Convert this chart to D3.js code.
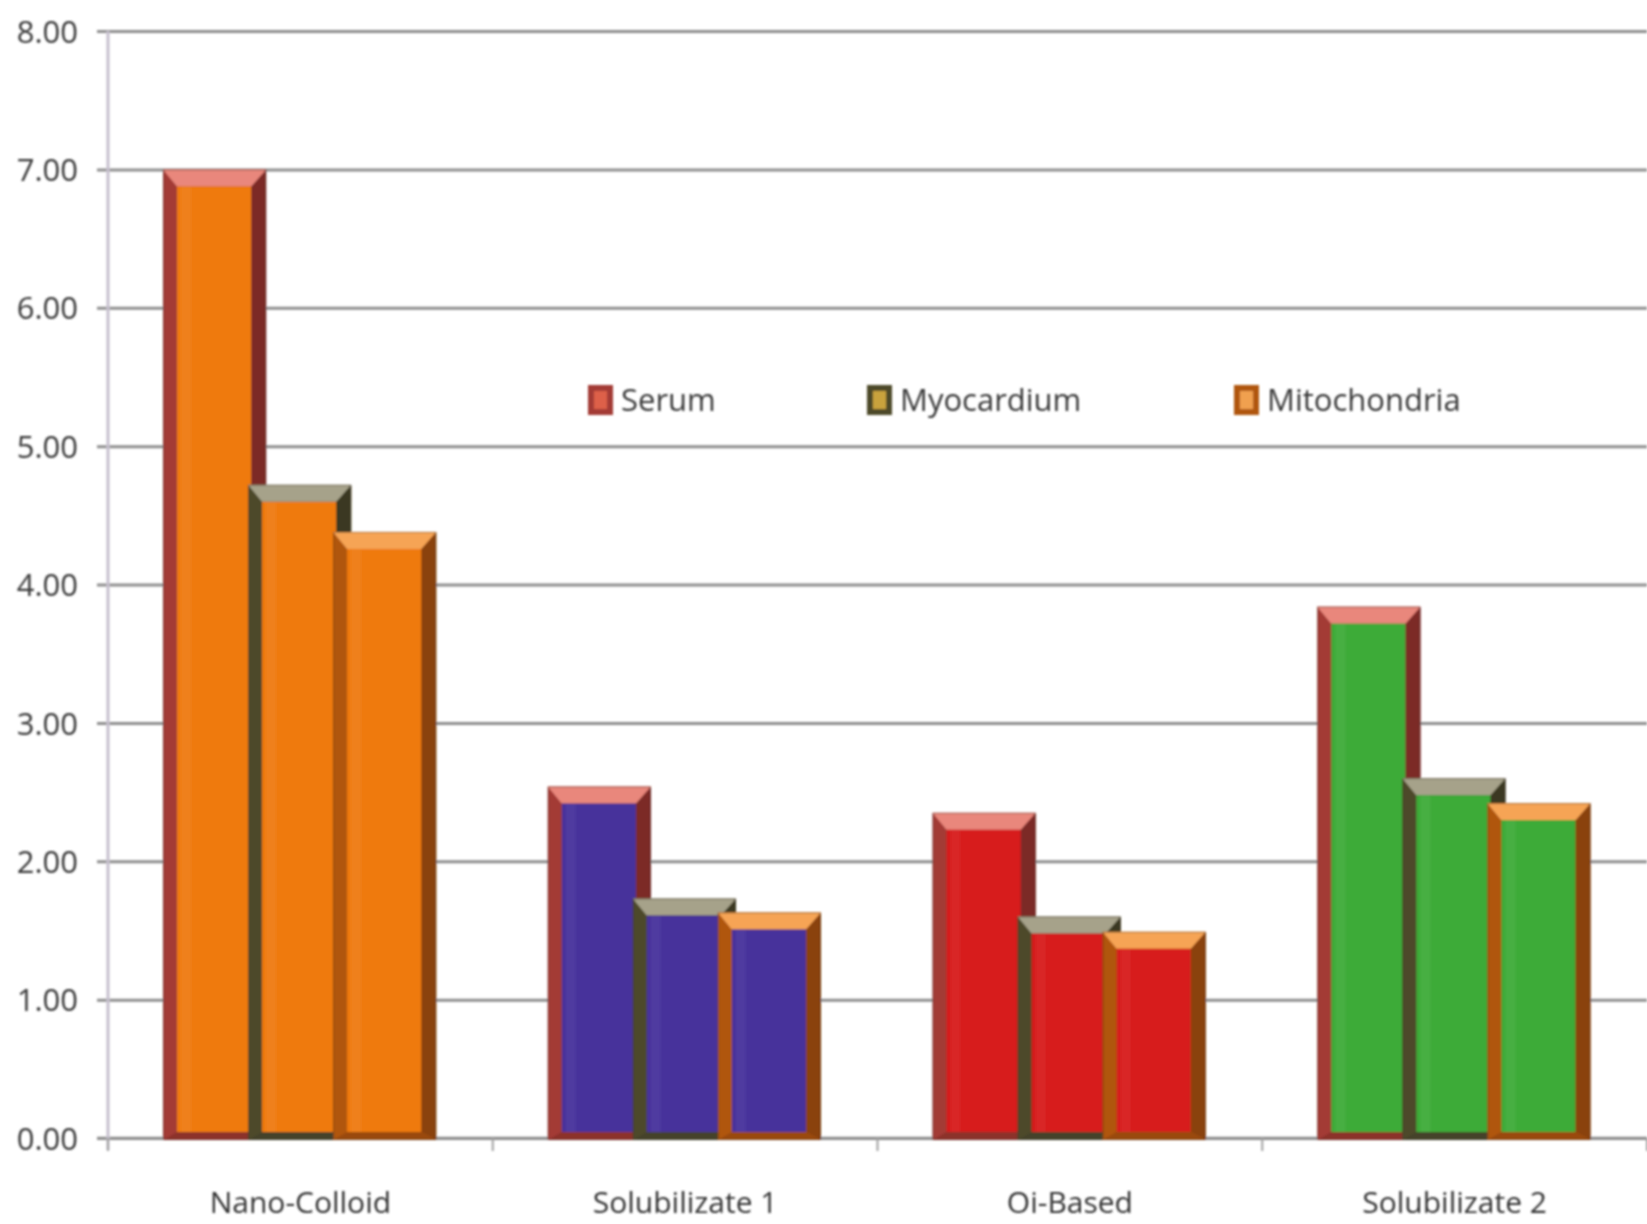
<!DOCTYPE html>
<html>
<head>
<meta charset="utf-8">
<script src="https://cdn.jsdelivr.net/npm/d3@7"></script>
<style>
  html, body { margin: 0; padding: 0; background: #ffffff; }
  svg { display: block; }
  text { font-family: "Open Sans", "DejaVu Sans", sans-serif; fill: #333333; }
</style>
</head>
<body>
<svg id="chart" width="1647" height="1224"></svg>
<script>
// Categories and series
const categories = ["Nano-Colloid", "Solubilizate 1", "Oi-Based", "Solubilizate 2"];
const seriesNames = ["Serum", "Myocardium", "Mitochondria"];
const serum        = [7.00, 2.54, 2.35, 3.84];
const myocardium   = [4.72, 1.73, 1.60, 2.60];
const mitochondria = [4.38, 1.63, 1.49, 2.42];
const yTickValues  = [0, 1, 2, 3, 4, 5, 6, 7, 8];
const yTickLabels  = ["0.00", "1.00", "2.00", "3.00", "4.00", "5.00", "6.00", "7.00", "8.00"];

// Styling: bar face colour follows the category, the bevelled frame follows the series
const categoryFill = ["#ef7a10", "#47309b", "#d71a1a", "#3dab38"];
const seriesFrame = [
  { left: "#a33a36", right: "#7c2a28", top: "#e9877c", bottom: "#8c302c", swatch: "#dd6048" },
  { left: "#4e4a2c", right: "#3a3820", top: "#a6a28a", bottom: "#45422a", swatch: "#c9a23e" },
  { left: "#b0560e", right: "#8a420a", top: "#f6a455", bottom: "#9a4a0c", swatch: "#f0a050" }
];
const seriesValues = [serum, myocardium, mitochondria];

const svg = d3.select("#chart");
const plot = { left: 108, right: 1647, top: 31, bottom: 1138 };

const defs = svg.append("defs");
defs.append("filter").attr("id", "soft")
  .attr("x", "-2%").attr("y", "-2%").attr("width", "104%").attr("height", "104%")
  .append("feGaussianBlur").attr("stdDeviation", 1.0);
const root = svg.append("g").attr("filter", "url(#soft)");

const x0 = d3.scaleBand().domain(categories).range([plot.left, plot.right]).paddingInner(0).paddingOuter(0);
const band = x0.bandwidth();
const barW = band * 0.268;
const xs = d3.scalePoint().domain(seriesNames).range([band * 0.143, band * 0.143 + band * 0.442]);
const y = d3.scaleLinear().domain([0, 8]).range([plot.bottom, plot.top]);

// Baseline
root.append("line")
  .attr("x1", plot.left - 11).attr("x2", plot.right)
  .attr("y1", plot.bottom).attr("y2", plot.bottom)
  .attr("stroke", "#8e8e8e").attr("stroke-width", 2.5);

// Horizontal gridlines with left ticks and labels
const yAxis = d3.axisLeft(y)
  .tickValues(yTickValues)
  .tickFormat((d, i) => yTickLabels[i])
  .tickSizeInner(-(plot.right - plot.left))
  .tickSizeOuter(0)
  .tickPadding(0);
const gy = root.append("g").attr("transform", `translate(${plot.left},0)`).call(yAxis);
gy.select(".domain").remove();
gy.selectAll(".tick line")
  .attr("x1", -11)
  .attr("stroke", "#8e8e8e")
  .attr("stroke-width", 3);
gy.selectAll(".tick text")
  .attr("x", -30)
  .attr("dy", "0.36em")
  .style("font-size", "31px")
  .style("fill", "#383838");

// Vertical axis line
root.append("line")
  .attr("x1", plot.left).attr("x2", plot.left)
  .attr("y1", plot.top).attr("y2", plot.bottom + 12)
  .attr("stroke", "#c6c0ce").attr("stroke-width", 3);

// Category axis
const xAxis = d3.axisBottom(x0).tickSize(0).tickPadding(0);
const gx = root.append("g").attr("transform", `translate(0,${plot.bottom})`).call(xAxis);
gx.select(".domain").remove();
gx.selectAll(".tick text")
  .attr("y", 75)
  .attr("dy", 0)
  .style("font-size", "30px")
  .style("fill", "#333333");
// Category boundary tick marks
root.selectAll("line.cat-tick")
  .data(categories.map(c => x0(c)).concat([plot.right]))
  .join("line")
  .attr("class", "cat-tick")
  .attr("x1", d => d).attr("x2", d => d)
  .attr("y1", plot.bottom).attr("y2", plot.bottom + 13)
  .attr("stroke", "#a0a0a0").attr("stroke-width", 2);

// Bars: drawn series by series so later series overlap earlier ones
const rows = [];
seriesNames.forEach((s, si) => {
  categories.forEach((c, ci) => {
    rows.push({ s, si, c, ci, v: seriesValues[si][ci] });
  });
});

const bL = 14, bR = 15, bT = 17, bB = 8;
const bars = root.append("g").selectAll("g.bar")
  .data(rows)
  .join("g")
  .attr("class", "bar")
  .attr("transform", d => `translate(${x0(d.c) + xs(d.s)},0)`);

bars.each(function (d) {
  const g = d3.select(this);
  const top = y(d.v), bot = y(0) + 2, w = barW;
  const f = seriesFrame[d.si];
  // frame body
  g.append("rect").attr("x", 0).attr("y", top).attr("width", w).attr("height", bot - top).attr("fill", f.left);
  // right edge of the frame
  g.append("path")
    .attr("d", `M${w - bR},${top + bT} L${w},${top} L${w},${bot} L${w - bR},${bot - bB} Z`)
    .attr("fill", f.right);
  // bottom edge
  g.append("path")
    .attr("d", `M${bL},${bot - bB} L${w - bR},${bot - bB} L${w},${bot} L0,${bot} Z`)
    .attr("fill", f.bottom);
  // top bevel
  g.append("path")
    .attr("d", `M0,${top} L${w},${top} L${w - bR},${top + bT} L${bL},${top + bT} Z`)
    .attr("fill", f.top);
  // face
  g.append("rect")
    .attr("x", bL).attr("y", top + bT)
    .attr("width", w - bL - bR).attr("height", Math.max(0, bot - bB - top - bT))
    .attr("fill", categoryFill[d.ci]);
  // faint highlight stripe on the face
  g.append("rect")
    .attr("x", bL + 4).attr("y", top + bT)
    .attr("width", 10).attr("height", Math.max(0, bot - bB - top - bT))
    .attr("fill", "#ffffff").attr("opacity", 0.05);
  // thin dark outline
  g.append("rect").attr("x", 0.5).attr("y", top + 0.5).attr("width", w - 1).attr("height", bot - top - 1)
    .attr("fill", "none").attr("stroke", "#3a2a20").attr("stroke-opacity", 0.35).attr("stroke-width", 1);
});

// Legend
const legendX = d3.scalePoint().domain(seriesNames).range([588, 1234]);
const legend = root.append("g").selectAll("g.legend-item")
  .data(seriesNames)
  .join("g")
  .attr("class", "legend-item")
  .attr("transform", (d, i) => `translate(${legendX(d) + (i === 1 ? -44 : 0)},400)`);
legend.append("rect")
  .attr("x", 0).attr("y", -15).attr("width", 25).attr("height", 30)
  .attr("fill", (d, i) => seriesFrame[i].left);
legend.append("rect")
  .attr("x", 6).attr("y", -9).attr("width", 13).attr("height", 18)
  .attr("fill", (d, i) => seriesFrame[i].swatch);
legend.append("text")
  .attr("x", 33).attr("y", 0).attr("dy", "0.36em")
  .style("font-size", "31px")
  .style("fill", "#383838")
  .text(d => d);
</script>
</body>
</html>
